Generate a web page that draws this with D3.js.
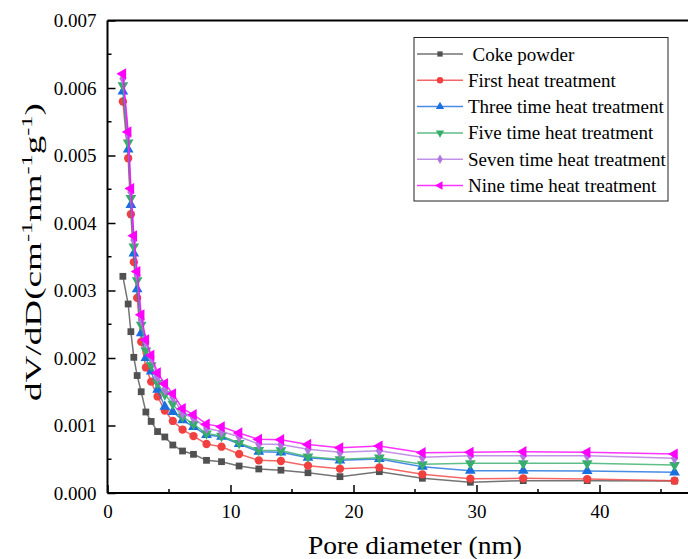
<!DOCTYPE html>
<html>
<head>
<meta charset="utf-8">
<script src="https://cdn.jsdelivr.net/npm/d3@7"></script>
<style>
  html, body { margin: 0; padding: 0; background: #fff; }
  svg { display: block; }
  text { font-family: "Liberation Serif", "Times New Roman", serif; fill: #000; }
</style>
</head>
<body>
<svg id="chart" width="688" height="559"></svg>
<script>
// Pore size distribution (BJH dV/dD) of coke powder and heat-treated samples
const diameters = [1.25, 1.68, 1.9, 2.14, 2.41, 2.74, 3.12, 3.55, 4.07, 4.66, 5.31, 6.1, 6.99,
  8.05, 9.27, 10.7, 12.3, 14.1, 16.3, 18.9, 22.1, 25.6, 29.5, 33.8, 39.0, 46.1];

const cokePowder = [0.00321, 0.00280, 0.00239, 0.00201, 0.00174, 0.00150, 0.00120, 0.00106, 0.00091,
  0.00083, 0.000711, 0.000622, 0.000573, 0.000484, 0.000464, 0.000400, 0.000356, 0.000338, 0.000300,
  0.000242, 0.000316, 0.000218, 0.000159, 0.000183, 0.000183, 0.000178];
const firstHeat = [0.00580, 0.00496, 0.00413, 0.00342, 0.00289, 0.00224, 0.00186, 0.00165, 0.00143,
  0.00122, 0.001067, 0.000940, 0.000844, 0.000726, 0.000686, 0.000578, 0.000484, 0.000474, 0.000405,
  0.000360, 0.000380, 0.000277, 0.000212, 0.000218, 0.000207, 0.000182];
const threeHeat = [0.00595, 0.00509, 0.00427, 0.00355, 0.00302, 0.00237, 0.00200, 0.00180, 0.00153,
  0.00128, 0.00120, 0.00108, 0.00098, 0.00086, 0.000834, 0.000726, 0.000612, 0.000603, 0.000523,
  0.000484, 0.000504, 0.000390, 0.000330, 0.000330, 0.000326, 0.000307];
const fiveHeat = [0.00604, 0.00519, 0.00437, 0.00365, 0.00315, 0.00249, 0.00211, 0.00189, 0.00163,
  0.00146, 0.00132, 0.00113, 0.00102, 0.00088, 0.000845, 0.000740, 0.000635, 0.000630, 0.000538,
  0.000499, 0.000523, 0.000425, 0.000440, 0.000440, 0.000440, 0.000415];
const sevenHeat = [0.00614, 0.00530, 0.00446, 0.00375, 0.00323, 0.00257, 0.00224, 0.00201, 0.00172,
  0.00153, 0.00142, 0.00118, 0.00111, 0.00096, 0.00091, 0.000834, 0.000726, 0.000720, 0.000647,
  0.000603, 0.000627, 0.000529, 0.000553, 0.000553, 0.000553, 0.000514];
const nineHeat = [0.00621, 0.00535, 0.00451, 0.00381, 0.00328, 0.00264, 0.00227, 0.00204, 0.00178,
  0.00162, 0.00147, 0.00125, 0.00116, 0.00102, 0.00098, 0.000890, 0.000795, 0.000790, 0.000720,
  0.000670, 0.000696, 0.000597, 0.000603, 0.000612, 0.000603, 0.000578];

const seriesNames = ["Coke powder", "First heat treatment", "Three time heat treatment",
  "Five time heat treatment", "Seven time heat treatment", "Nine time heat treatment"];
const seriesValues = [cokePowder, firstHeat, threeHeat, fiveHeat, sevenHeat, nineHeat];
const seriesColors = ["#515151", "#F14040", "#1A6FDF", "#37AD6B", "#B177DE", "#FF00FF"];

const xTicks = [0, 10, 20, 30, 40];
const yTicks = [0, 0.001, 0.002, 0.003, 0.004, 0.005, 0.006, 0.007];

const svg = d3.select("#chart");
const plotLeft = 107.5, plotTop = 20.5, plotBottom = 493, plotRight = 690;
const x = d3.scaleLinear().domain([0, 47.5]).range([plotLeft, plotLeft + 12.3 * 47.5]);
const y = d3.scaleLinear().domain([0, 0.007]).range([plotBottom, plotTop]);

// marker shapes: square, circle, up triangle, down triangle, diamond, left triangle
const markerDefs = [
  { type: d3.symbolSquare, size: 46, rot: 0 },
  { type: d3.symbolCircle, size: 54, rot: 0 },
  { type: d3.symbolTriangle, size: 50, rot: 0 },
  { type: d3.symbolTriangle, size: 50, rot: 180 },
  { type: d3.symbolDiamond, size: 44, rot: 0 },
  { type: d3.symbolTriangle, size: 54, rot: -90 }
];

const plot = svg.append("g");
const line = d3.line().x(d => x(d[0])).y(d => y(d[1]));

seriesValues.forEach((vals, i) => {
  const pts = diameters.map((d, k) => [d, vals[k]]);
  const g = plot.append("g");
  g.append("path").datum(pts).attr("d", line)
    .attr("fill", "none").attr("stroke", seriesColors[i])
    .attr("stroke-width", 1.5).attr("stroke-opacity", 0.8);
  const m = markerDefs[i];
  const sym = d3.symbol().type(m.type).size(m.size);
  g.selectAll("path.mk").data(pts).enter().append("path").attr("class", "mk")
    .attr("d", sym)
    .attr("transform", d => `translate(${x(d[0])},${y(d[1])}) rotate(${m.rot})`)
    .attr("fill", seriesColors[i]);
});

// frame: top line and axes with inward ticks
svg.append("line").attr("x1", plotLeft).attr("x2", plotRight).attr("y1", plotTop).attr("y2", plotTop)
  .attr("stroke", "#000").attr("stroke-width", 2);

const yAxis = d3.axisLeft(y).tickValues(yTicks).tickFormat(d3.format(".3f"))
  .tickSizeInner(-8).tickSizeOuter(0).tickPadding(11);
const gy = svg.append("g").attr("transform", `translate(${plotLeft},0)`).call(yAxis);
const yMinor = d3.range(0.0005, 0.007, 0.001);
gy.selectAll("line.minor").data(yMinor).enter().append("line").attr("class", "minor")
  .attr("x1", 0).attr("x2", 4).attr("y1", d => y(d)).attr("y2", d => y(d))
  .attr("stroke", "#000").attr("stroke-width", 1.5);

const xAxis = d3.axisBottom(x).tickValues(xTicks).tickFormat(d3.format("d"))
  .tickSizeInner(-8).tickSizeOuter(0).tickPadding(12);
const gx = svg.append("g").attr("transform", `translate(0,${plotBottom})`).call(xAxis);
const xMinor = [5, 15, 25, 35, 45];
gx.selectAll("line.minor").data(xMinor).enter().append("line").attr("class", "minor")
  .attr("x1", d => x(d)).attr("x2", d => x(d)).attr("y1", 0).attr("y2", -4)
  .attr("stroke", "#000").attr("stroke-width", 1.5);

[gx, gy].forEach(g => {
  g.select(".domain").attr("stroke", "#000").attr("stroke-width", 2);
  g.selectAll(".tick line").attr("stroke", "#000").attr("stroke-width", 1.5);
  g.selectAll(".tick text").attr("font-family", "Liberation Serif").attr("font-size", 19).attr("fill", "#000");
});
gy.select(".domain").attr("d", `M0,${plotBottom}V${plotTop}`);
gx.select(".domain").attr("d", `M${plotLeft},0H${plotRight}`);

// axis titles
svg.append("text").attr("x", 415).attr("y", 554).attr("text-anchor", "middle")
  .attr("font-size", 25).attr("textLength", 214).attr("lengthAdjust", "spacingAndGlyphs")
  .text("Pore diameter (nm)");

const ytG = svg.append("g");
const yt = ytG.append("text").attr("font-size", 23);
yt.append("tspan").text("dV/dD(cm");
yt.append("tspan").attr("dy", -9).attr("font-size", 15).text("-1");
yt.append("tspan").attr("dy", 9).text("nm");
yt.append("tspan").attr("dy", -9).attr("font-size", 15).text("-1");
yt.append("tspan").attr("dy", 9).text("g");
yt.append("tspan").attr("dy", -9).attr("font-size", 15).text("-1");
yt.append("tspan").attr("dy", 9).text(")");
const ytLen = yt.node().getComputedTextLength();
const ytTarget = 298;
const sx = ytTarget / ytLen;
yt.attr("x", -ytLen / 2);
ytG.attr("transform", `translate(41,252) rotate(-90) scale(${sx},1)`);

// legend
const lg = svg.append("g");
lg.append("rect").attr("x", 414).attr("y", 37.5).attr("width", 254).attr("height", 163.5)
  .attr("fill", "#fff").attr("stroke", "#222").attr("stroke-width", 1);
seriesNames.forEach((name, i) => {
  const cy = 54 + i * 26.3;
  lg.append("line").attr("x1", 417).attr("x2", 463).attr("y1", cy).attr("y2", cy)
    .attr("stroke", seriesColors[i]).attr("stroke-width", 1.5).attr("stroke-opacity", 0.8);
  const m = markerDefs[i];
  lg.append("path").attr("d", d3.symbol().type(m.type).size(m.size * 0.6)())
    .attr("transform", `translate(440,${cy}) rotate(${m.rot})`).attr("fill", seriesColors[i]);
  lg.append("text").attr("x", i === 0 ? 472.5 : 468).attr("y", cy + 6.5)
    .attr("font-size", 19).text(name);
});
</script>
</body>
</html>
